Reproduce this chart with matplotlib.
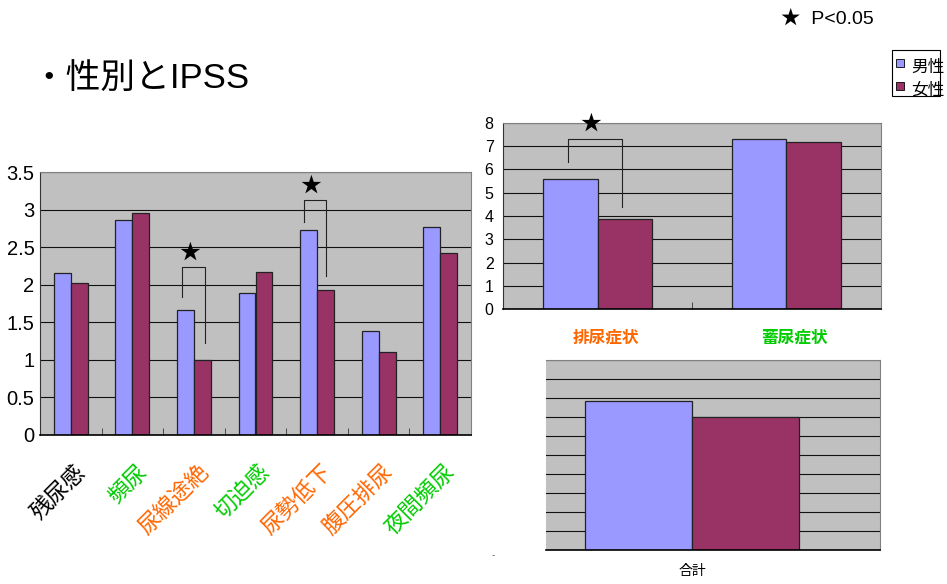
import numpy as np
import matplotlib
matplotlib.use('Agg')
import matplotlib.pyplot as plt
from matplotlib.patches import Rectangle
from matplotlib.transforms import ScaledTranslation

plt.rcParams['font.family'] = ['Liberation Sans', 'Noto Sans CJK JP', 'DejaVu Sans']

# Data
series = ['男性', '女性']
items = ['残尿感', '頻尿', '尿線途絶', '切迫感', '尿勢低下', '腹圧排尿', '夜間頻尿']
items_male = [2.15, 2.86, 1.67, 1.89, 2.73, 1.39, 2.77]
items_female = [2.02, 2.96, 1.00, 2.17, 1.93, 1.10, 2.42]
item_colors = ['#000000', '#00CC00', '#FF6600', '#00CC00', '#FF6600', '#FF6600', '#00CC00']

groups = ['排尿症状', '蓄尿症状']
groups_male = [5.58, 7.29]
groups_female = [3.87, 7.18]
group_colors = ['#FF6600', '#00CC00']

total_label = ['合計']
total_male = [15.7]
total_female = [14.0]

male_color = '#9999FF'
female_color = '#993366'
panel_bg = '#C0C0C0'


def style_axes(ax):
    ax.set_facecolor(panel_bg)
    ax.yaxis.grid(True, color='#111111', lw=0.8)
    ax.set_axisbelow(True)
    for side in ['top', 'right']:
        ax.spines[side].set_color('#808080')
        ax.spines[side].set_linewidth(0.8)
    ax.spines['left'].set_color('#333333')
    ax.spines['bottom'].set_color('black')
    ax.spines['bottom'].set_linewidth(1.2)


def draw_bars(ax, male, female, width):
    x = np.arange(len(male))
    ax.bar(x - width / 2, male, width, color=male_color, edgecolor='#222222', lw=0.9)
    ax.bar(x + width / 2, female, width, color=female_color, edgecolor='#222222', lw=0.9)
    return x


def bracket(ax, xl, xr, yl, yr, ytop, ystar, xstar, size):
    ax.plot([xl, xl, xr, xr], [yl, ytop, ytop, yr], color='#222222', lw=0.8, clip_on=False)
    ax.text(xstar, ystar, '★', ha='center', va='center', fontsize=size,
            family=['Noto Sans CJK JP'], clip_on=False)


fig = plt.figure(figsize=(9.47, 5.84), dpi=100)

# Left chart: individual IPSS items
ax1 = fig.add_axes([40 / 947, 1 - 435 / 584, 431 / 947, 263 / 584])
style_axes(ax1)
x = draw_bars(ax1, items_male, items_female, 0.275)
ax1.set_xlim(-0.5, len(items) - 0.5)
ax1.set_ylim(0, 3.5)
yt = np.arange(0, 3.51, 0.5)
ax1.set_yticks(yt, labels=['{:g}'.format(v) for v in yt], fontsize=14.5)
ax1.tick_params(axis='y', length=0, pad=4)
ax1.set_xticks(x, labels=items, fontsize=16, rotation=45, ha='right', va='center',
               rotation_mode='anchor', family=['Noto Sans CJK JP'])
ax1.set_xticks(np.arange(0.5, len(items) - 0.5, 1), minor=True)
ax1.tick_params(axis='x', which='major', length=0, pad=24)
ax1.tick_params(axis='x', which='minor', direction='in', length=5, color='#333333')
for lab, c in zip(ax1.get_xticklabels(), item_colors):
    lab.set_color(c)
    lab.set_transform(lab.get_transform() + ScaledTranslation(0.11, 0, fig.dpi_scale_trans))

bracket(ax1, 2 - 0.19, 2 + 0.18, 1.84, 1.22, 2.23, 2.42, 2 - 0.07, 15)
bracket(ax1, 4 - 0.22, 4 + 0.14, 2.83, 2.12, 3.13, 3.32, 4 - 0.1, 15)

# Top right chart: voiding / storage symptoms
ax2 = fig.add_axes([503.3 / 947, 1 - 309.3 / 584, 377.4 / 947, 186.6 / 584])
style_axes(ax2)
x2 = draw_bars(ax2, groups_male, groups_female, 0.287)
ax2.set_xlim(-0.5, 1.5)
ax2.set_ylim(0, 8)
ax2.set_yticks(range(0, 9), labels=[str(v) for v in range(0, 9)], fontsize=11.5)
ax2.tick_params(axis='y', length=0, pad=7)
ax2.set_xticks(x2, labels=groups, fontsize=12, fontweight='bold', family=['Noto Sans CJK JP'])
ax2.set_xticks([0.5], minor=True)
ax2.tick_params(axis='x', which='major', length=0, pad=14)
ax2.tick_params(axis='x', which='minor', direction='in', length=5, color='#333333')
for lab, c in zip(ax2.get_xticklabels(), group_colors):
    lab.set_color(c)
    lab.set_transform(lab.get_transform() + ScaledTranslation(0.08, 0, fig.dpi_scale_trans))

bracket(ax2, -0.156, 0.127, 6.33, 4.38, 7.31, 7.95, -0.035, 15)

# Bottom right chart: total score (left part cropped in the original)
ax3 = fig.add_axes([546 / 947, 34 / 584, 334 / 947, 190 / 584])
style_axes(ax3)
ax3.spines['left'].set_visible(False)
x3 = draw_bars(ax3, total_male, total_female, 0.285)
ax3.set_xlim(-0.39, 0.5)
ax3.set_ylim(0, 20)
ax3.set_yticks(range(0, 21, 2), labels=[])
ax3.tick_params(axis='y', length=0)
ax3.set_xticks(x3, labels=total_label, fontsize=10, family=['Noto Sans CJK JP'])
ax3.tick_params(axis='x', length=0, pad=10)
fig.text(493 / 947, 1 - 555 / 584, '-', fontsize=7, color='#555555', ha='center', va='center')

# Title and significance note
fig.text(31 / 947, 1 - 88 / 584, '・性別とIPSS', fontsize=25, va='baseline')
fig.text(781 / 947, 1 - 20 / 584, '★  P<0.05', fontsize=14, va='center')

# Legend box
fig.patches.append(Rectangle((892 / 947, 1 - 96 / 584), 48 / 947, 46 / 584,
                             transform=fig.transFigure, facecolor='white',
                             edgecolor='black', lw=0.8))
for i, (name, c) in enumerate(zip(series, [male_color, female_color])):
    yc = 63 + i * 23
    fig.patches.append(Rectangle((896 / 947, 1 - (yc + 4) / 584), 8 / 947, 8 / 584,
                                 transform=fig.transFigure, facecolor=c,
                                 edgecolor='black', lw=0.6))
    fig.text(911 / 947, 1 - (yc + 4) / 584, name, fontsize=12, va='center',
             family=['Noto Sans CJK JP'])

plt.savefig('out.png', dpi=100)
